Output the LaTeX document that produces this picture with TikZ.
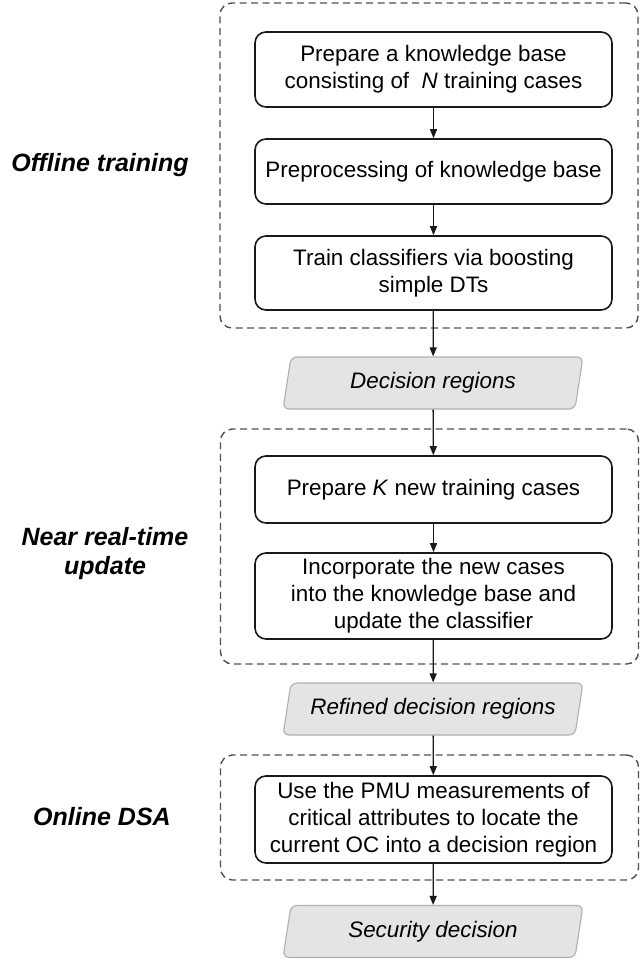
\documentclass[tikz,border=0pt]{standalone}
\usepackage{fontspec}
\setmainfont{Liberation Sans}
\usetikzlibrary{arrows.meta,shapes.geometric}
\definecolor{dashgray}{HTML}{505050}
\definecolor{parafill}{HTML}{E4E4E4}
\definecolor{paradraw}{HTML}{B0B0B0}
\tikzset{
  stepbox/.style={draw=black!90, line width=1.6pt, rounded corners=11pt, minimum width=357pt,
    align=center, inner sep=0pt, font=\fontsize{22.4}{27}\selectfont},
  phasebox/.style={draw=dashgray, line width=1.4pt, dash pattern=on 7pt off 4.5pt,
    rounded corners=12pt, minimum width=418pt, inner sep=0pt},
  databox/.style={trapezium, trapezium left angle=69, trapezium right angle=111,
    trapezium stretches body, draw=paradraw, fill=parafill, line width=1.1pt, rounded corners=6pt,
    minimum width=300pt, minimum height=52pt, inner sep=0pt,
    font=\fontsize{22.4}{27}\selectfont\itshape},
  phaselabel/.style={align=center, font=\fontsize{25}{29}\selectfont\bfseries\itshape},
  flow/.style={line width=1.3pt, black!90, -{Triangle[length=9pt,width=7pt]}}
}
\begin{document}
\begin{tikzpicture}[x=1pt,y=-1pt]
\useasboundingbox (0,0) rectangle (640,959);
% phase containers
\node[phasebox, minimum height=325pt] (ph1) at (429,165.5) {};
\node[phasebox, minimum height=235pt] (ph2) at (429.5,546.5) {};
\node[phasebox, minimum height=125pt] (ph3) at (429.5,817.5) {};
% phase labels
\node[phaselabel] (l1) at (100,165) {Offline training};
\node[phaselabel] (l2) at (105,554) {Near real-time\\update};
\node[phaselabel] (l3) at (102,817) {Online DSA};
% steps
\node[stepbox, minimum height=75pt] (b1) at (433.5,69.5) {Prepare a knowledge base\\consisting of~ \textit{N} training cases};
\node[stepbox, minimum height=65pt] (b2) at (433.5,171.5) {Preprocessing of knowledge base};
\node[stepbox, minimum height=74pt] (b3) at (433.5,273) {Train classifiers via boosting\\simple DTs};
\node[databox] (d1) at (433,383) {Decision regions};
\node[stepbox, minimum height=67pt] (b4) at (433.5,489.5) {Prepare \textit{K} new training cases};
\node[stepbox, minimum height=86pt] (b5) at (433.5,596) {Incorporate the new cases\\into the knowledge base and\\update the classifier};
\node[databox] (d2) at (433,709) {Refined decision regions};
\node[stepbox, minimum height=87pt] (b6) at (433.5,819.5) {Use the PMU measurements of\\critical attributes to locate the\\current OC into a decision region};
\node[databox] (d3) at (433,931.5) {Security decision};
% connectors
\draw[flow] (b1) -- (b2);
\draw[flow] (b2) -- (b3);
\draw[flow] (b3) -- (d1);
\draw[flow] (d1) -- (b4);
\draw[flow] (b4) -- (b5);
\draw[flow] (b5) -- (d2);
\draw[flow] (d2) -- (b6);
\draw[flow] (b6) -- (d3);
\end{tikzpicture}
\end{document}
